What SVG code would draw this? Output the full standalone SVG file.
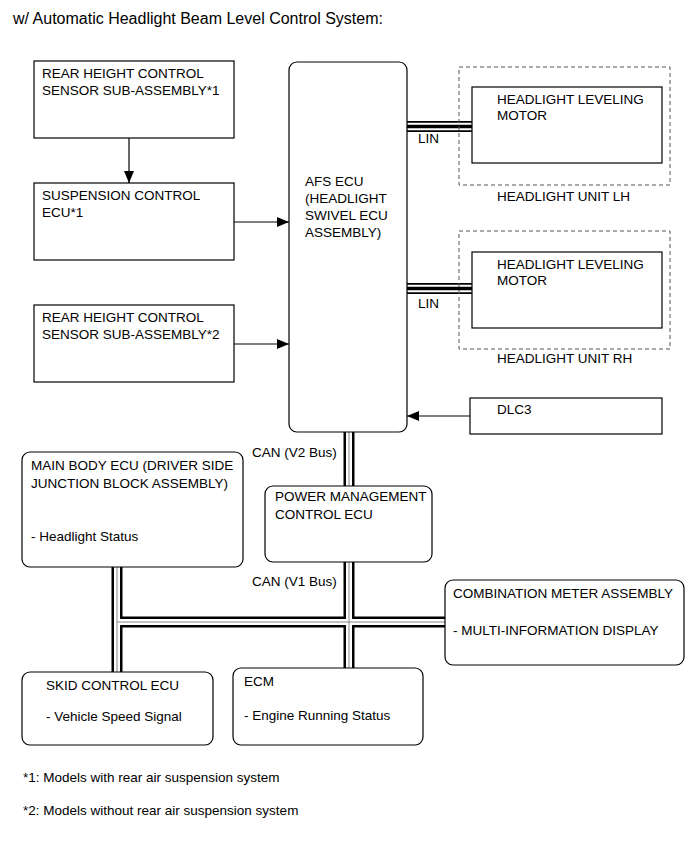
<svg xmlns="http://www.w3.org/2000/svg" width="691" height="855" viewBox="0 0 691 855">
<style>
text{font-family:"Liberation Sans",Arial,sans-serif;font-size:13.5px;fill:#000}
.t{font-size:16px}
.box{fill:#fff;stroke:#000;stroke-width:1.2}
.dash{fill:none;stroke:#555;stroke-width:1;stroke-dasharray:4 3}
.wire{stroke:#000;stroke-width:1.2;fill:none}
.busB{stroke:#000;stroke-width:11;fill:none}
.busW{stroke:#fff;stroke-width:6;fill:none}
.busG{stroke:#888;stroke-width:1;fill:none}
.linW{stroke:#fff;stroke-width:7.5;fill:none}
.linC{stroke:#000;stroke-width:3.5;fill:none}
</style>
<defs>
<marker id="ah" markerWidth="12" markerHeight="10" refX="12" refY="5" orient="auto" markerUnits="userSpaceOnUse">
<path d="M0,0 L12,5 L0,10 Z" fill="#000"/>
</marker>
</defs>
<rect width="691" height="855" fill="#fff"/>
<text class="t" x="13" y="24">w/ Automatic Headlight Beam Level Control System:</text>

<g id="connectors">
<line class="wire" x1="129" y1="138" x2="129" y2="183" marker-end="url(#ah)"/>
<line class="wire" x1="234" y1="222" x2="289" y2="222" marker-end="url(#ah)"/>
<line class="wire" x1="234" y1="344" x2="289" y2="344" marker-end="url(#ah)"/>
<line class="wire" x1="470" y1="416" x2="407" y2="416" marker-end="url(#ah)"/>
<line class="busB" x1="407" y1="126.5" x2="472" y2="126.5"/>
<line class="linW" x1="407" y1="126.5" x2="472" y2="126.5"/>
<line class="linC" x1="407" y1="126.5" x2="472" y2="126.5"/>
<line class="busB" x1="407" y1="288.5" x2="472" y2="288.5"/>
<line class="linW" x1="407" y1="288.5" x2="472" y2="288.5"/>
<line class="linC" x1="407" y1="288.5" x2="472" y2="288.5"/>
<g>
<line class="busB" x1="349" y1="432" x2="349" y2="486"/>
<line class="busB" x1="349" y1="562" x2="349" y2="668"/>
<line class="busB" x1="117" y1="567" x2="117" y2="672"/>
<line class="busB" x1="117" y1="622" x2="445" y2="622"/>
<line class="busW" x1="349" y1="432" x2="349" y2="486"/>
<line class="busW" x1="349" y1="562" x2="349" y2="668"/>
<line class="busW" x1="117" y1="567" x2="117" y2="672"/>
<line class="busW" x1="117" y1="622" x2="445" y2="622"/>
<line class="busG" x1="349" y1="432" x2="349" y2="486"/>
<line class="busG" x1="349" y1="562" x2="349" y2="668"/>
<line class="busG" x1="117" y1="567" x2="117" y2="672"/>
<line class="busG" x1="117" y1="622" x2="445" y2="622"/>
</g>
<text x="418" y="143">LIN</text>
<text x="418" y="308">LIN</text>
<text x="252" y="457">CAN (V2 Bus)</text>
<text x="252" y="586">CAN (V1 Bus)</text>
</g>

<g id="rear1">
<rect class="box" x="34" y="61" width="200" height="77"/>
<text x="42" y="78">REAR HEIGHT CONTROL</text>
<text x="42" y="95">SENSOR SUB-ASSEMBLY*1</text>
</g>
<g id="susp">
<rect class="box" x="34" y="183" width="200" height="77"/>
<text x="42" y="200">SUSPENSION CONTROL</text>
<text x="42" y="217">ECU*1</text>
</g>
<g id="rear2">
<rect class="box" x="34" y="305" width="200" height="77"/>
<text x="42" y="322">REAR HEIGHT CONTROL</text>
<text x="42" y="339">SENSOR SUB-ASSEMBLY*2</text>
</g>
<g id="afs">
<rect class="box" x="289" y="62" width="118" height="370" rx="8"/>
<text x="305" y="186">AFS ECU</text>
<text x="305" y="203">(HEADLIGHT</text>
<text x="305" y="220">SWIVEL ECU</text>
<text x="305" y="237">ASSEMBLY)</text>
</g>
<g id="unitLH">
<rect class="dash" x="459" y="67" width="211" height="118"/>
<rect class="box" x="472" y="87" width="190" height="76"/>
<text x="497" y="104">HEADLIGHT LEVELING</text>
<text x="497" y="120">MOTOR</text>
<text x="497" y="201">HEADLIGHT UNIT LH</text>
</g>
<g id="unitRH">
<rect class="dash" x="459" y="231" width="211" height="118"/>
<rect class="box" x="472" y="252" width="190" height="76"/>
<text x="497" y="269">HEADLIGHT LEVELING</text>
<text x="497" y="285">MOTOR</text>
<text x="497" y="363">HEADLIGHT UNIT RH</text>
</g>
<g id="dlc3">
<rect class="box" x="470" y="398" width="192" height="36"/>
<text x="497" y="414">DLC3</text>
</g>
<g id="mainbody">
<rect class="box" x="22" y="452" width="221" height="115" rx="8"/>
<text x="31" y="470">MAIN BODY ECU (DRIVER SIDE</text>
<text x="31" y="488">JUNCTION BLOCK ASSEMBLY)</text>
<text x="31" y="541">- Headlight Status</text>
</g>
<g id="power">
<rect class="box" x="265" y="486" width="167" height="76" rx="8"/>
<text x="275" y="501">POWER MANAGEMENT</text>
<text x="275" y="519">CONTROL ECU</text>
</g>
<g id="combo">
<rect class="box" x="445" y="580" width="239" height="85" rx="8"/>
<text x="453" y="598">COMBINATION METER ASSEMBLY</text>
<text x="453" y="635">- MULTI-INFORMATION DISPLAY</text>
</g>
<g id="skid">
<rect class="box" x="22" y="672" width="191" height="73" rx="8"/>
<text x="46" y="690">SKID CONTROL ECU</text>
<text x="46" y="721">- Vehicle Speed Signal</text>
</g>
<g id="ecm">
<rect class="box" x="233" y="668" width="190" height="77" rx="8"/>
<text x="244" y="686">ECM</text>
<text x="244" y="720">- Engine Running Status</text>
</g>
<text x="23" y="782">*1: Models with rear air suspension system</text>
<text x="23" y="815">*2: Models without rear air suspension system</text>
</svg>
